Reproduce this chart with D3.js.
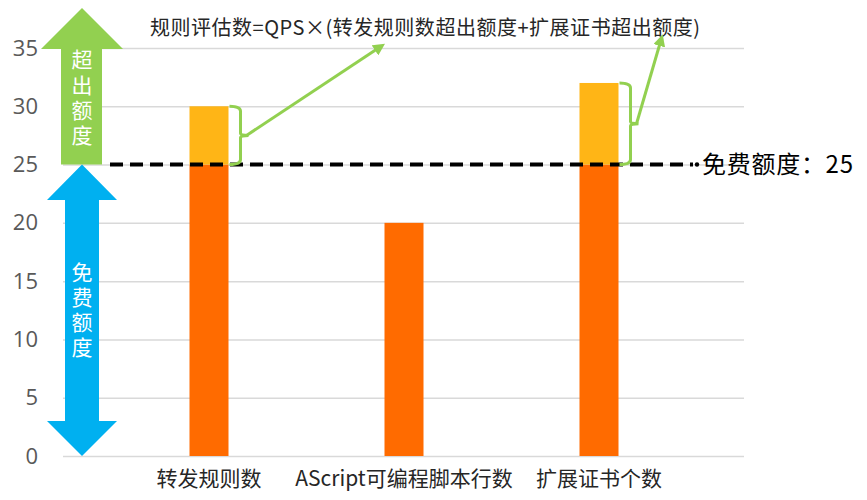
<!DOCTYPE html>
<html>
<head>
<meta charset="utf-8">
<script src="https://cdn.jsdelivr.net/npm/d3@7.9.0/dist/d3.min.js"></script>
<style>
  body { margin: 0; background: #fff; }
  text { font-family: "Noto Sans CJK SC", "Noto Sans", sans-serif; }
</style>
</head>
<body>
<div id="chart"></div>
<script>
// chart values
const categories = ['转发规则数', 'AScript可编程脚本行数', '扩展证书个数'];
const freeValues = [25, 20, 25];
const excessValues = [5, 0, 7];
const yTicks = [0, 5, 10, 15, 20, 25, 30, 35];
const freeQuota = 25;
const formulaText = '规则评估数=QPS×(转发规则数超出额度+扩展证书超出额度)';
const quotaLabel = '免费额度：25';
const upLabel = '超出额度';
const downLabel = '免费额度';

const width = 867;
const height = 500;

const svg = d3.select('#chart')
  .append('svg')
  .attr('width', width)
  .attr('height', height);

const xScale = d3.scaleBand()
  .domain(categories)
  .range([111.5, 696.5])
  .paddingInner(0.8)
  .paddingOuter(0.4);

const yScale = d3.scaleLinear()
  .domain([0, 35])
  .range([456, 48]);

const green = '#92D050';

// gridlines
const grid = svg.append('g')
  .attr('transform', 'translate(63,0)')
  .call(d3.axisLeft(yScale).tickValues(yTicks).tickFormat('').tickSize(-681));
grid.selectAll('.domain').remove();
grid.selectAll('line').attr('stroke', '#d9d9d9').attr('stroke-width', 1.5);

// y axis labels
const yAxis = svg.append('g')
  .attr('transform', 'translate(38,0)')
  .call(d3.axisLeft(yScale).tickValues(yTicks).tickSize(0).tickPadding(0));
yAxis.selectAll('.domain').remove();
yAxis.selectAll('text')
  .attr('font-size', 22)
  .attr('fill', '#595959')
  .style('font-family', '"Open Sans", "Noto Sans", sans-serif');

// x labels
svg.append('g')
  .selectAll('text')
  .data(categories)
  .join('text')
  .attr('x', (d) => xScale(d) + xScale.bandwidth() / 2)
  .attr('y', 486)
  .attr('text-anchor', 'middle')
  .attr('font-size', 21)
  .attr('fill', '#262626')
  .text((d) => d);

// bars
const bars = svg.append('g');
bars.selectAll('rect.free')
  .data(categories)
  .join('rect')
  .attr('class', 'free')
  .attr('x', (d) => xScale(d))
  .attr('width', xScale.bandwidth())
  .attr('y', (d, i) => yScale(freeValues[i]))
  .attr('height', (d, i) => yScale(0) - yScale(freeValues[i]))
  .attr('fill', '#FF6B00');

bars.selectAll('rect.excess')
  .data(categories.filter((d, i) => excessValues[i] > 0))
  .join('rect')
  .attr('class', 'excess')
  .attr('x', (d) => xScale(d))
  .attr('width', xScale.bandwidth())
  .attr('y', (d) => {
    const i = categories.indexOf(d);
    return yScale(freeValues[i] + excessValues[i]);
  })
  .attr('height', (d) => {
    const i = categories.indexOf(d);
    return yScale(freeValues[i]) - yScale(freeValues[i] + excessValues[i]);
  })
  .attr('fill', '#FFB516');

// free quota dashed line
const yq = yScale(freeQuota);
svg.append('line')
  .attr('x1', 110).attr('x2', 693)
  .attr('y1', yq).attr('y2', yq)
  .attr('stroke', '#000')
  .attr('stroke-width', 4)
  .attr('stroke-dasharray', '13 7');
svg.append('circle')
  .attr('cx', 697).attr('cy', yq).attr('r', 2.2).attr('fill', '#000');
svg.append('text')
  .attr('x', 702).attr('y', yq + 8)
  .attr('font-size', 24)
  .attr('fill', '#000')
  .attr('textLength', 151)
  .text(quotaLabel);

// up/down arrows on the left
const cx = 82;
const upArrow = [
  [61, yq], [61, 49], [41, 49], [cx, 8], [123, 49], [102, 49], [102, yq]
];
svg.append('path')
  .attr('d', d3.line()(upArrow) + 'Z')
  .attr('fill', green);

const downArrow = [
  [cx, yq], [117, 200], [99, 200], [99, 421], [117, 421], [cx, yScale(0)],
  [47, 421], [65, 421], [65, 200], [47, 200]
];
svg.append('path')
  .attr('d', d3.line()(downArrow) + 'Z')
  .attr('fill', '#00B0F0');

// vertical labels inside arrows
svg.append('text')
  .attr('x', cx).attr('y', 49)
  .attr('font-size', 21)
  .attr('fill', '#fff')
  .style('writing-mode', 'vertical-rl')
  .style('letter-spacing', '4.3px')
  .text(upLabel);

svg.append('text')
  .attr('x', cx).attr('y', 262)
  .attr('font-size', 21)
  .attr('fill', '#fff')
  .style('writing-mode', 'vertical-rl')
  .style('letter-spacing', '3.8px')
  .text(downLabel);

// formula text
svg.append('text')
  .attr('x', 150).attr('y', 35)
  .attr('font-size', 20)
  .attr('fill', '#262626')
  .attr('textLength', 550)
  .text(formulaText);

// brackets with arrows to formula
const defs = svg.append('defs');
defs.append('marker')
  .attr('id', 'head')
  .attr('viewBox', '0 0 10 10')
  .attr('refX', 5).attr('refY', 5)
  .attr('markerWidth', 4).attr('markerHeight', 4)
  .attr('orient', 'auto')
  .append('path')
  .attr('d', 'M0,0 L10,5 L0,10 Z')
  .attr('fill', green);

const bracketTargets = [
  { cat: categories[0], tip: [380, 47] },
  { cat: categories[2], tip: [661, 40] }
];

bracketTargets.forEach((b) => {
  const i = categories.indexOf(b.cat);
  const x0 = xScale(b.cat) + xScale.bandwidth() + 1;
  const xb = x0 + 11;
  const yTop = yScale(freeValues[i] + excessValues[i]);
  const yBot = yScale(freeValues[i]);
  const yMid = (yTop + yBot) / 2;
  const path = d3.path();
  path.moveTo(x0, yTop);
  path.quadraticCurveTo(xb, yTop, xb, yTop + 5);
  path.lineTo(xb, yMid - 2);
  path.quadraticCurveTo(xb, yMid, xb + 8, yMid);
  path.moveTo(xb + 8, yMid);
  path.quadraticCurveTo(xb, yMid, xb, yMid + 2);
  path.lineTo(xb, yBot - 5);
  path.quadraticCurveTo(xb, yBot, x0, yBot);
  svg.append('path')
    .attr('d', path.toString())
    .attr('fill', 'none')
    .attr('stroke', green)
    .attr('stroke-width', 3);
  svg.append('line')
    .attr('x1', xb + 6).attr('y1', yMid)
    .attr('x2', b.tip[0]).attr('y2', b.tip[1])
    .attr('stroke', green)
    .attr('stroke-width', 3)
    .attr('marker-end', 'url(#head)');
});
</script>
</body>
</html>
